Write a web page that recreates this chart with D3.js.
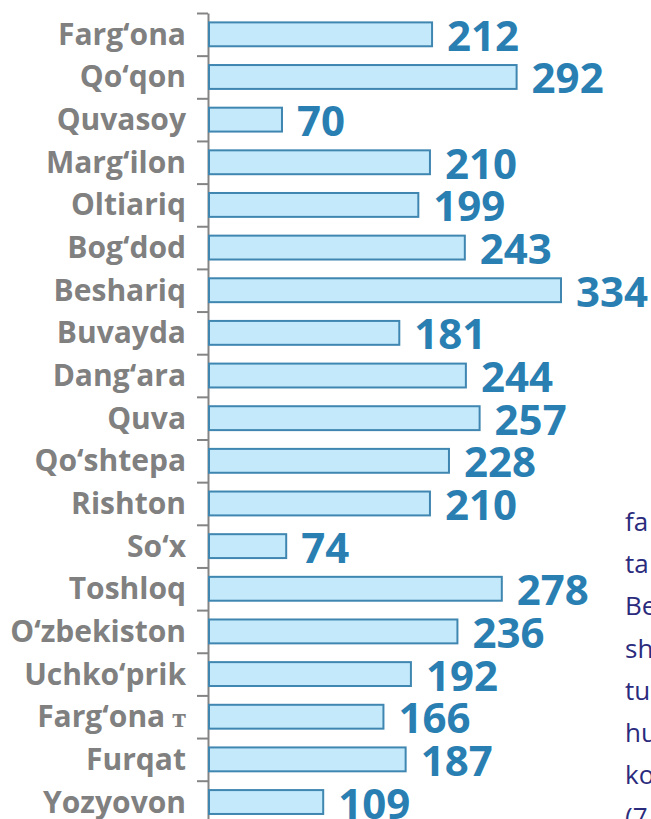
<!DOCTYPE html>
<html>
<head>
<meta charset="utf-8">
<script src="https://cdn.jsdelivr.net/npm/d3@7"></script>
<style>
  html, body { margin: 0; padding: 0; background: #fff; overflow: hidden; }
  svg { display: block; }
</style>
</head>
<body>
<div id="chart"></div>
<script>
// districts, top to bottom
const districts = [
  'Farg‘ona', 'Qo‘qon', 'Quvasoy', 'Marg‘ilon', 'Oltiariq', 'Bog‘dod',
  'Beshariq', 'Buvayda', 'Dang‘ara', 'Quva', 'Qo‘shtepa', 'Rishton',
  'So‘x', 'Toshloq', 'O‘zbekiston', 'Uchko‘prik', 'Farg‘ona', 'Furqat',
  'Yozyovon'
];
const counts = [212, 292, 70, 210, 199, 243, 334, 181, 244, 257, 228, 210,
  74, 278, 236, 192, 166, 187, 109];
// the one row that carries a little serif mark after the name
const suffixes = ['', '', '', '', '', '', '', '', '', '', '', '', '', '', '', '', ' т', '', ''];

// cut-off text of the next column on the page
const sideLines = ['fa', 'ta', 'Be', 'sh', 'tu', 'hu', 'ko', '(7'];

const width = 651;
const height = 819;
const axisX = 208;
const topY = 13;
const step = 42.65;

const svg = d3.select('#chart')
  .append('svg')
  .attr('width', width)
  .attr('height', height);

// one band per district
const y = d3.scaleBand()
  .domain(d3.range(districts.length))
  .range([topY, topY + step * districts.length])
  .paddingInner(0.44)
  .paddingOuter(0.22);

const x = d3.scaleLinear()
  .domain([0, 334])
  .range([axisX, 561]);

// boundary ticks sit between the bands
const yEdge = d3.scaleLinear()
  .domain([0, districts.length])
  .range([topY, topY + step * districts.length]);

const axis = svg.append('g')
  .attr('transform', `translate(${axisX},0)`)
  .call(d3.axisLeft(yEdge)
    .tickValues(d3.range(0, districts.length))
    .tickFormat('')
    .tickSizeInner(11)
    .tickSizeOuter(0));
axis.selectAll('path, line')
  .attr('stroke', '#848484')
  .attr('stroke-width', 2);

// bars
svg.append('g')
  .selectAll('rect')
  .data(counts)
  .join('rect')
  .attr('x', x(0) + 1)
  .attr('y', (d, i) => y(i))
  .attr('width', d => x(d) - x(0) - 1)
  .attr('height', y.bandwidth())
  .attr('fill', '#c3e9fb')
  .attr('stroke', '#3f86b1')
  .attr('stroke-width', 2);

// value labels
svg.append('g')
  .selectAll('text')
  .data(counts)
  .join('text')
  .attr('x', d => x(d) + 15)
  .attr('y', (d, i) => y(i) + y.bandwidth() / 2 + 16.5)
  .attr('font-family', '"Open Sans", sans-serif')
  .attr('font-weight', 700)
  .attr('font-size', 42)
  .attr('fill', '#2a7fb2')
  .text(d => d);

// district names
const names = svg.append('g')
  .selectAll('text')
  .data(districts)
  .join('text')
  .attr('x', 186)
  .attr('y', (d, i) => y(i) + y.bandwidth() / 2 + 10.5)
  .attr('text-anchor', 'end')
  .attr('font-family', '"Open Sans", sans-serif')
  .attr('font-weight', 700)
  .attr('font-size', 30)
  .attr('fill', '#808080');
names.append('tspan').text(d => d);
names.append('tspan')
  .attr('font-family', '"Liberation Serif", serif')
  .attr('font-size', 28)
  .text((d, i) => suffixes[i]);

// neighbouring paragraph, clipped by the page edge
svg.append('g')
  .selectAll('text')
  .data(sideLines)
  .join('text')
  .attr('x', 625)
  .attr('y', (d, i) => 531 + i * 42.2)
  .attr('font-family', '"Open Sans", sans-serif')
  .attr('font-size', 26)
  .attr('fill', '#2b2b7d')
  .text(d => d);
</script>
</body>
</html>
